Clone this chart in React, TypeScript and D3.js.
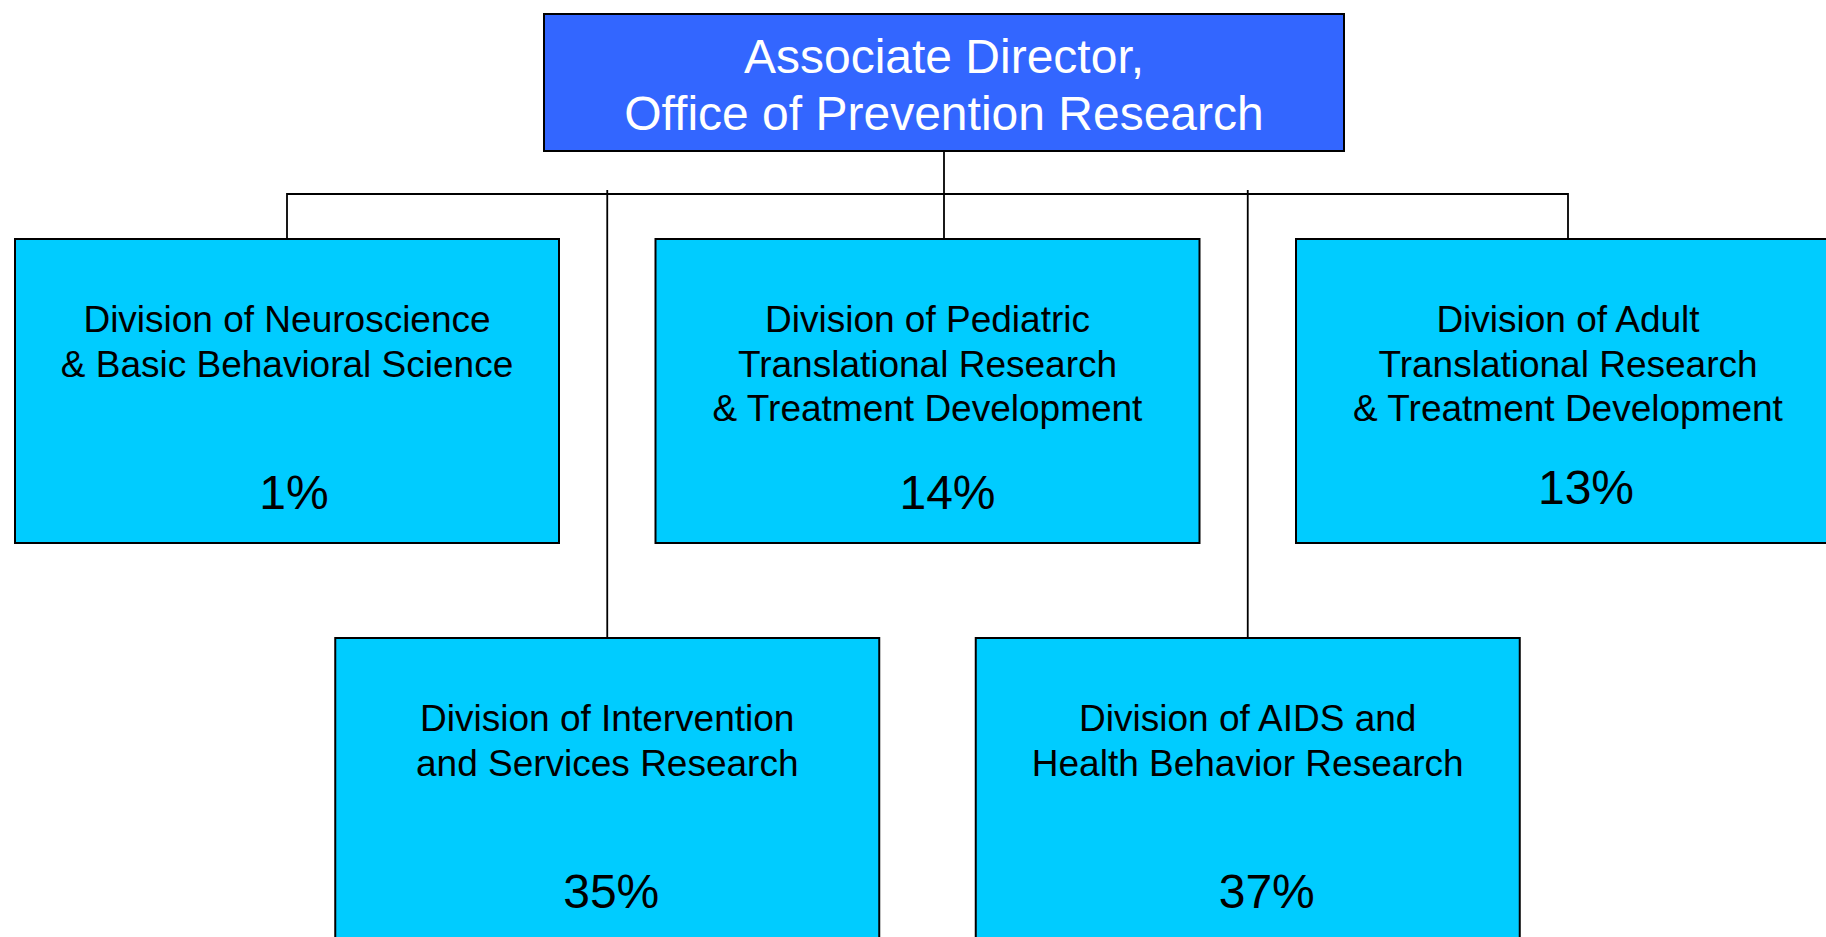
import { useEffect, useRef } from 'react'
import * as d3 from 'd3'

// org chart content
const topTitle = ['Associate Director,', 'Office of Prevention Research']
const divisions = ['neuro', 'intervention', 'pediatric', 'aids', 'adult']
const divisionLabels = [
  ['Division of Neuroscience', '& Basic Behavioral Science'],
  ['Division of Intervention', 'and Services Research'],
  ['Division of Pediatric', 'Translational Research', '& Treatment Development'],
  ['Division of AIDS and', 'Health Behavior Research'],
  ['Division of Adult', 'Translational Research', '& Treatment Development'],
]
const divisionShares = [1, 35, 14, 37, 13]
const divisionTier = [0, 1, 0, 1, 0]

// layout
const W = 1826
const H = 937
const FONT = '"Liberation Sans", Arial, Helvetica, sans-serif'
const boxW = 544
const boxH = 304
const top = { x: 544, y: 14, w: 800, h: 137 }
const busY = 194
const pctShift = [[7, 0], [4, 0], [20, 0], [19, 0], [18, -5]]

export default function App() {
  const svgRef = useRef<SVGSVGElement>(null)

  useEffect(() => {
    if (!svgRef.current) return
    const svg = d3.select(svgRef.current)
    svg.selectAll('*').remove()

    const x = d3.scalePoint<string>().domain(divisions).range([287, 1568])
    const y = d3.scaleLinear().domain([0, 1]).range([239, 638])
    const topCx = top.x + top.w / 2

    const lines = svg.append('g')
      .attr('stroke', '#000')
      .attr('stroke-width', 1.8)
      .attr('fill', 'none')

    // bus line across tier 0
    const tier0 = divisions.filter((_, i) => divisionTier[i] === 0)
    const tierX = tier0.map(d => x(d) as number)
    lines.append('path')
      .attr('d', `M${d3.min(tierX)},${y(0)}V${busY}H${d3.max(tierX)}V${y(0)}`)
    lines.append('line')
      .attr('x1', topCx).attr('x2', topCx)
      .attr('y1', top.y + top.h).attr('y2', y(0))

    // long drops to tier 1
    divisions.forEach((d, i) => {
      if (divisionTier[i] !== 1) return
      lines.append('line')
        .attr('x1', x(d) as number).attr('x2', x(d) as number)
        .attr('y1', busY - 4).attr('y2', y(1))
    })

    // top box
    svg.append('rect')
      .attr('x', top.x).attr('y', top.y)
      .attr('width', top.w).attr('height', top.h)
      .attr('fill', '#3366FF')
      .attr('stroke', '#000')
      .attr('stroke-width', 2)
    svg.append('text')
      .attr('text-anchor', 'middle')
      .attr('font-family', FONT)
      .attr('font-size', 48)
      .attr('fill', '#fff')
      .selectAll('tspan')
      .data(topTitle)
      .enter().append('tspan')
      .attr('x', topCx)
      .attr('y', (_, i) => 73 + i * 57)
      .text(d => d)

    // division boxes
    const g = svg.selectAll('.division')
      .data(divisions)
      .enter().append('g')
      .attr('class', 'division')
      .attr('transform', (d, i) => `translate(${(x(d) as number) - boxW / 2},${y(divisionTier[i])})`)

    g.append('rect')
      .attr('width', boxW)
      .attr('height', boxH)
      .attr('fill', '#00CCFF')
      .attr('stroke', '#000')
      .attr('stroke-width', 2)

    g.append('text')
      .attr('text-anchor', 'middle')
      .attr('font-family', FONT)
      .attr('font-size', 37)
      .attr('fill', '#000')
      .selectAll('tspan')
      .data((_, i) => divisionLabels[i])
      .enter().append('tspan')
      .attr('x', boxW / 2)
      .attr('y', (_, j) => 93 + j * 44.5)
      .text(d => d)

    g.append('text')
      .attr('text-anchor', 'middle')
      .attr('font-family', FONT)
      .attr('font-size', 48)
      .attr('fill', '#000')
      .attr('x', (_, i) => boxW / 2 + pctShift[i][0])
      .attr('y', (_, i) => 270 + pctShift[i][1])
      .text((_, i) => `${divisionShares[i]}%`)
  }, [])

  return (
    <svg
      ref={svgRef}
      width={W}
      height={H}
      style={{ position: 'absolute', left: 0, top: 0, background: '#fff' }}
    />
  )
}
